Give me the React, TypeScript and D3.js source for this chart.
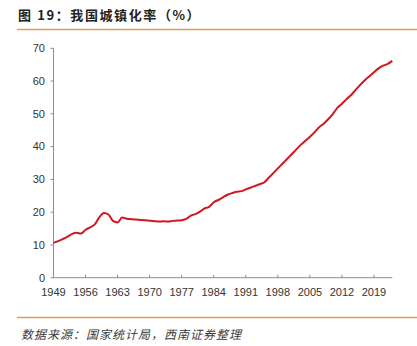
import React from "react";
import * as d3 from "d3";

const years: number[] = d3.range(1949, 2024);
const urbanRate: number[] = [
  10.64, 11.18, 11.78, 12.46, 13.31, 13.69, 13.48, 14.62, 15.39, 16.25,
  18.41, 19.75, 19.29, 17.33, 16.84, 18.37, 17.98, 17.86, 17.74, 17.62,
  17.5, 17.38, 17.26, 17.13, 17.2, 17.16, 17.34, 17.44, 17.55, 17.92,
  18.96, 19.39, 20.16, 21.13, 21.62, 23.01, 23.71, 24.52, 25.32, 25.81,
  26.21, 26.41, 26.94, 27.46, 27.99, 28.51, 29.04, 30.48, 31.91, 33.35,
  34.78, 36.22, 37.66, 39.09, 40.53, 41.76, 42.99, 44.34, 45.89, 46.99,
  48.34, 49.95, 51.83, 53.1, 54.49, 55.75, 57.33, 58.84, 60.24, 61.5,
  62.71, 63.89, 64.72, 65.22, 66.16,
];
const xTickYears: number[] = [1949, 1956, 1963, 1970, 1977, 1984, 1991, 1998, 2005, 2012, 2019];
const yTicks: number[] = [0, 10, 20, 30, 40, 50, 60, 70];
const titleText = "图 19：我国城镇化率（%）";
const sourceText = "数据来源：国家统计局，西南证券整理";

export default function App() {
  const W = 417;
  const H = 346;
  const x = d3.scaleLinear().domain([1949, 2023]).range([53.5, 392.3]);
  const y = d3.scaleLinear().domain([0, 70]).range([277.7, 48.3]);
  const data = years.map((yr, i) => ({ yr, v: urbanRate[i] }));
  const line = d3
    .line<{ yr: number; v: number }>()
    .x((d) => x(d.yr))
    .y((d) => y(d.v))
    .curve(d3.curveMonotoneX);
  const font = "'Liberation Sans', Arial, 'Noto Sans CJK SC', sans-serif";
  const cjk = "'Noto Sans CJK SC', 'Liberation Sans', sans-serif";
  const axisColor = "#8c8c8c";
  const textColor = "#333";
  const orange = "#D9A15E";
  return (
    <svg
      width={W}
      height={H}
      style={{ position: "absolute", left: 0, top: 0, background: "#fff" }}
    >
      <text
        x={18}
        y={15}
        dy="0.35em"
        fontFamily={cjk}
        fontWeight="bold"
        fontSize={13}
        letterSpacing={1.6}
        fill="#222"
      >
        {titleText}
      </text>
      <line x1={17} x2={417} y1={29.5} y2={29.5} stroke={orange} strokeWidth={1.5} />

      {/* y axis */}
      <line x1={x(1949)} x2={x(1949)} y1={y(70)} y2={y(0)} stroke={axisColor} strokeWidth={1} />
      {yTicks.map((t) => (
        <g key={t}>
          <line x1={x(1949) - 3} x2={x(1949)} y1={y(t)} y2={y(t)} stroke={axisColor} />
          <text
            x={45}
            y={y(t)}
            dy="0.35em"
            textAnchor="end"
            fontFamily={font}
            fontSize={11}
            fill={textColor}
          >
            {t}
          </text>
        </g>
      ))}

      {/* x axis */}
      <line x1={x(1949)} x2={x(2023)} y1={y(0)} y2={y(0)} stroke={axisColor} strokeWidth={1} />
      {xTickYears.map((t) => (
        <g key={t}>
          {t !== 1949 && (
            <line x1={x(t)} x2={x(t)} y1={y(0)} y2={y(0) - 3} stroke={axisColor} />
          )}
          <text
            x={x(t)}
            y={292}
            dy="0.35em"
            textAnchor="middle"
            fontFamily={font}
            fontSize={11}
            fill={textColor}
          >
            {t}
          </text>
        </g>
      ))}

      <path d={line(data) || ""} fill="none" stroke="#D0161E" strokeWidth={2} strokeLinejoin="round" />

      <line x1={17} x2={417} y1={317.5} y2={317.5} stroke={orange} strokeWidth={1.5} />
      <text
        x={21}
        y={334.5}
        dy="0.35em"
        fontFamily={cjk}
        fontStyle="italic"
        fontSize={12}
        letterSpacing={1}
        fill="#3a3a3a"
      >
        {sourceText}
      </text>
    </svg>
  );
}
